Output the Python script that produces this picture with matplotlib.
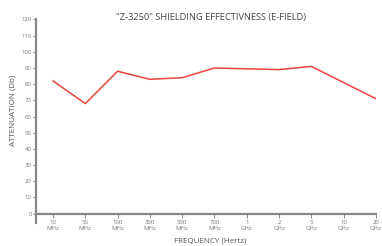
import matplotlib
matplotlib.use("Agg")
import matplotlib.pyplot as plt

freq_labels = ["10\nMHz", "50\nMHz", "100\nMHz", "300\nMHz", "500\nMHz", "700\nMHz",
               "1\nGHz", "2\nGHz", "5\nGHz", "10\nGHz", "20\nGHz"]
# measured points (no reading at 10 GHz)
point_idx = [0, 1, 2, 3, 4, 5, 6, 7, 8, 10]
attenuation = [82, 68, 88, 83, 84, 90, 89.5, 89, 91, 71]
y_ticks = list(range(0, 121, 10))

plt.rcParams["font.family"] = ["Open Sans", "DejaVu Sans"]
gray = "#777777"

fig = plt.figure(figsize=(3.82, 2.46), dpi=100)
ax = fig.add_axes([0.094, 0.092, 0.890, 0.829])

ax.plot(point_idx, attenuation, color="#e8453c", lw=1.1)

ax.set_xlim(-0.53, 10)
ax.set_ylim(-6, 120)
ax.set_yticks(y_ticks)
ax.set_yticklabels([str(v) for v in y_ticks])
ax.set_xticks(range(len(freq_labels)))
ax.set_xticklabels(freq_labels, linespacing=1.0)

for s in ["top", "right"]:
    ax.spines[s].set_visible(False)
ax.spines["bottom"].set_position(("data", 0))
ax.spines["left"].set_color("#888888")
ax.spines["bottom"].set_color("#888888")
ax.spines["left"].set_linewidth(1.6)
ax.spines["bottom"].set_linewidth(1.6)

ax.tick_params(axis="y", labelsize=4.3, colors=gray, length=2, width=0.6, pad=1)
ax.tick_params(axis="x", labelsize=4.3, colors=gray, length=3, width=0.6, pad=1.5)

fig.text(0.553, 0.927, '"Z-3250" SHIELDING EFFECTIVNESS (E-FIELD)', fontsize=6.7,
         color="#444444", ha="center", va="center")
fig.text(0.55, 0.005, "FREQUENCY (Hertz)", fontsize=5.8, color="#555555", ha="center", va="bottom")
fig.text(0.025, 0.55, "ATTENUATION (Db)", fontsize=5.8, color="#555555", ha="left",
         va="center", rotation=90)

fig.savefig("out.png", dpi=100)
